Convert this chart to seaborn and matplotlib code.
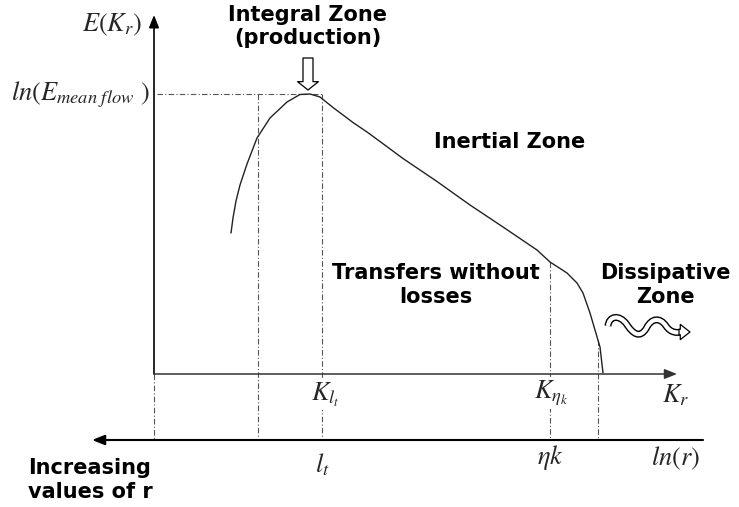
import numpy as np
import seaborn as sns
import matplotlib.pyplot as plt

from matplotlib.path import Path
from matplotlib.patches import PathPatch

# Energy spectrum (log wavenumber, log energy; arbitrary units)
wavenumber = [1.54, 1.58, 1.64, 1.72, 1.86, 2.06, 2.32, 2.66, 2.92, 3.12, 3.32,
              3.58, 3.98, 4.26, 4.52, 4.98, 5.66, 6.32, 6.98, 7.66, 7.92, 8.26,
              8.46, 8.58, 8.72, 8.82, 8.92, 8.98]
energy = [2.82, 3.12, 3.46, 3.78, 4.20, 4.72, 5.12, 5.44, 5.59, 5.60, 5.54,
          5.33, 5.03, 4.84, 4.65, 4.31, 3.85, 3.38, 2.94, 2.48, 2.24, 2.02,
          1.82, 1.62, 1.22, 0.88, 0.54, 0.02]

# Zone limits on the wavenumber axis
k_integral_start = 2.08
k_lt = 3.36
k_eta = 7.92
k_dissip_end = 8.88
e_mean_flow = 5.60

# Axes extents
e_axis_top = 7.18
kr_axis_end = 10.46
lnr_level = -1.32
lnr_left = -1.24
lnr_right = 10.98

# Labels
zone_labels = ['Integral Zone\n(production)', 'Inertial Zone',
               'Transfers without\nlosses', 'Dissipative\nZone',
               'Increasing\nvalues of r']
k_labels = [r'$K_{l_t}$', r'$K_{\eta_k}$', r'$K_r$']
r_labels = [r'$l_t$', r'$\eta k$', r'$ln(r)$']


def axis_arrow(ax, start, end, lw, color='black'):
    """
    Draws an axis line with a filled arrow head at its end.
    """
    ax.annotate('', xy=end, xytext=start,
                arrowprops=dict(arrowstyle='-|>,head_length=0.75,head_width=0.3',
                                color=color, lw=lw, mutation_scale=10,
                                shrinkA=0, shrinkB=0))


def guide(ax, xs, ys):
    """
    Draws a dash-dot guide line.
    """
    ax.plot(xs, ys, color='#555555', lw=0.8, ls=(0, (5, 2, 1, 2)), zorder=1)


# Set seaborn
sns.set_style('white')
plt.rcParams['mathtext.fontset'] = 'stix'
plt.rcParams['font.family'] = ['DejaVu Sans']

fig = plt.figure(figsize=(7.39, 5.07), dpi=100)
ax = fig.add_axes([0, 0, 1, 1])
ax.set_xlim(-3.08, 11.7)
ax.set_ylim(-2.66, 7.48)
ax.axis('off')

# Guide lines
guide(ax, [0.06, k_lt], [e_mean_flow, e_mean_flow])
guide(ax, [0, 0], [0, lnr_level])
guide(ax, [k_integral_start, k_integral_start], [e_mean_flow, lnr_level])
guide(ax, [k_lt, k_lt], [e_mean_flow, lnr_level])
for k in (k_eta, k_dissip_end):
    top = np.interp(k, wavenumber, energy)
    guide(ax, [k, k], [top, lnr_level])

# Spectrum curve
sns.lineplot(x=wavenumber, y=energy, sort=False, estimator=None,
             color='#222222', lw=1.0, ax=ax, zorder=3)

# Axes
axis_arrow(ax, (0, 0), (0, e_axis_top), 1.2)
axis_arrow(ax, (0, 0), (kr_axis_end, 0), 1.1, color='#333333')
axis_arrow(ax, (lnr_right, lnr_level), (lnr_left, lnr_level), 1.5)

# Hollow arrow pointing at the peak
ax.annotate('', xy=(3.08, 5.68), xytext=(3.08, 6.32),
            arrowprops=dict(arrowstyle='simple,head_length=0.6,head_width=1.5,tail_width=0.72',
                            fc='white', ec='black', lw=0.9, mutation_scale=10,
                            shrinkA=0, shrinkB=0))

# Wavy hollow arrow for dissipation
wave = Path([(9.08, 0.96), (9.10, 1.16), (9.30, 1.20), (9.45, 1.00),
             (9.58, 0.80), (9.72, 0.70), (9.85, 0.92),
             (9.95, 1.12), (10.12, 1.14), (10.24, 0.96),
             (10.34, 0.82), (10.45, 0.82), (10.56, 0.84)],
            [Path.MOVETO] + [Path.CURVE4] * 12)
ax.add_patch(PathPatch(wave, fill=False, lw=5, ec='black', capstyle='butt'))
ax.add_patch(PathPatch(wave, fill=False, lw=3, ec='white', capstyle='butt'))
ax.annotate('', xy=(10.72, 0.84), xytext=(10.50, 0.84),
            arrowprops=dict(arrowstyle='simple,head_length=0.7,head_width=1.1,tail_width=0.4',
                            fc='white', ec='black', lw=0.9, mutation_scale=10,
                            shrinkA=0, shrinkB=0))

# Zone texts
bold = dict(fontsize=15, fontweight='bold', color='black')
ax.text(3.08, 7.38, zone_labels[0], ha='center', va='top', **bold)
ax.text(7.12, 4.64, zone_labels[1], ha='center', va='center', **bold)
ax.text(5.64, 1.78, zone_labels[2], ha='center', va='center', **bold)
ax.text(10.22, 1.78, zone_labels[3], ha='center', va='center', **bold)
ax.text(-2.52, -2.12, zone_labels[4], ha='left', va='center', **bold)

# Math labels
ax.text(-0.84, 6.98, r'$E(K_r)$', ha='center', va='center', fontsize=19)
ax.text(-0.08, 5.48, r'$ln(E_{mean\ flow}\ )$', ha='right', va='baseline',
        fontsize=19)

white = dict(facecolor='white', edgecolor='none', pad=1)
for x, y, lbl in zip([k_lt + 0.06, k_eta + 0.02, 10.44], [-0.42, -0.38, -0.42], k_labels):
    ax.text(x, y, lbl, ha='center', va='center', fontsize=19, bbox=white)
for x, y, lbl in zip([k_lt, k_eta, 10.44], [-1.82, -1.68, -1.68], r_labels):
    ax.text(x, y, lbl, ha='center', va='center', fontsize=19)

# Save
fig.savefig('out.png', dpi=100)
